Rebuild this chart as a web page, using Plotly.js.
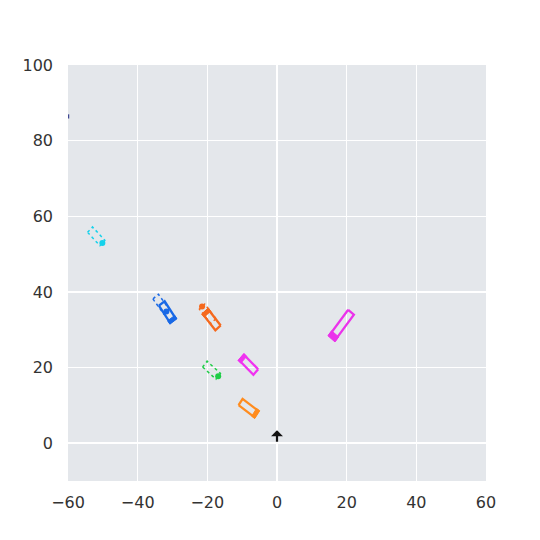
<!DOCTYPE html>
<html><head><meta charset="utf-8">
<script src="https://cdn.plot.ly/plotly-3.0.1.min.js"></script>
<style>html,body{margin:0;padding:0;background:#fff}</style>
</head><body><div id="chart" style="width:540px;height:540px"></div>
<script>
// ---- data (world coordinates, metres / degrees) ----
const vehX = [-31.5, -18.7, -8.1, -8.2, 18.6];
const vehY = [34.7, 32.6, 20.7, 9.3, 31.3];
const vehHeading = [-55, 130, 137, -35, -128.6];
const vehLength = [5.5, 5.5, 5.5, 5.5, 8.5];
const vehWidth = [2, 2, 2, 2, 2.1];

const ghostX = [-51.9, -18.8, -33.3, -19.9];
const ghostY = [54.7, 19.3, 36.8, 34.2];
const ghostHeading = [-45, -40, -52, 130];
const ghostLength = [5, 5, 5, 5];
const ghostWidth = [2, 2, 2, 2];

const egoX = [0], egoY = [0], egoArrowLen = [3.4];
const markX = [-59.8], markY = [86.4];

const xTicks = [-60, -40, -20, 0, 20, 40, 60];
const yTicks = [0, 20, 40, 60, 80, 100];

// ---- styles ----
const vehColors = ['rgb(25,105,230)', 'rgb(245,105,30)', 'rgb(240,50,240)', 'rgb(255,140,30)', 'rgb(235,50,235)'];
const ghostColors = ['rgb(20,210,235)', 'rgb(30,205,70)', 'rgb(25,105,230)', 'rgb(245,105,30)'];

function box(cx, cy, hdeg, L, W, a0, a1, w) {
  const h = hdeg * Math.PI / 180, c = Math.cos(h), s = Math.sin(h);
  const pts = [[a0, -w], [a1, -w], [a1, w], [a0, w], [a0, -w]];
  return {
    x: pts.map(p => cx + p[0] * L * c - p[1] * W * s),
    y: pts.map(p => cy + p[0] * L * s + p[1] * W * c)
  };
}
function pt(cx, cy, hdeg, d) {
  const h = hdeg * Math.PI / 180;
  return [cx + d * Math.cos(h), cy + d * Math.sin(h)];
}

const traces = [];
// ghost vehicles: dotted outline + dot at front
ghostX.forEach((gx, i) => {
  const b = box(gx, ghostY[i], ghostHeading[i], ghostLength[i], ghostWidth[i], -0.5, 0.5, 0.5);
  traces.push({type: 'scatter', mode: 'lines', x: b.x, y: b.y, hoverinfo: 'skip',
    line: {color: ghostColors[i], width: 1.5, dash: 'dot'}});
  const f = pt(gx, ghostY[i], ghostHeading[i], ghostLength[i] / 2);
  traces.push({type: 'scatter', mode: 'markers', x: [f[0]], y: [f[1]], hoverinfo: 'skip',
    marker: {color: ghostColors[i], size: 6, symbol: 'circle'}});
});
// solid vehicles: outline + filled front
vehX.forEach((vx, i) => {
  const b = box(vx, vehY[i], vehHeading[i], vehLength[i], vehWidth[i], -0.5, 0.5, 0.5);
  traces.push({type: 'scatter', mode: 'lines', x: b.x, y: b.y, hoverinfo: 'skip',
    line: {color: vehColors[i], width: 2.3}});
  const fr = box(vx, vehY[i], vehHeading[i], vehLength[i], vehWidth[i], 0.36, 0.56, 0.62);
  traces.push({type: 'scatter', mode: 'lines', x: fr.x, y: fr.y, fill: 'toself', hoverinfo: 'skip',
    fillcolor: vehColors[i], line: {color: vehColors[i], width: 1}});
});
// tiny mark at left edge
traces.push({type: 'scatter', mode: 'markers', x: markX, y: markY, hoverinfo: 'skip',
  marker: {symbol: 'line-ns', size: 3, line: {color: '#1a237e', width: 1}}});

const layout = {
  width: 540, height: 540,
  margin: {l: 68, r: 54, t: 65, b: 59},
  paper_bgcolor: '#ffffff', plot_bgcolor: '#e4e7eb',
  showlegend: false,
  font: {family: 'DejaVu Sans', size: 16, color: '#333333'},
  xaxis: {range: [-60, 60], tickvals: xTicks, showgrid: true, gridcolor: '#ffffff', gridwidth: 1.5,
    zeroline: false, showline: false, ticks: '', ticklabelstandoff: 10, fixedrange: true},
  yaxis: {range: [-10, 100], tickvals: yTicks, showgrid: true, gridcolor: '#ffffff', gridwidth: 1.5,
    zeroline: false, showline: false, ticks: '', ticklabelstandoff: 14, fixedrange: true},
  annotations: [{x: egoX[0], y: egoY[0] + egoArrowLen[0], ax: egoX[0], ay: egoY[0],
    xref: 'x', yref: 'y', axref: 'x', ayref: 'y', text: '', showarrow: true,
    arrowhead: 1, arrowsize: 0.9, arrowwidth: 2.2, arrowcolor: '#111111'}]
};
Plotly.newPlot('chart', traces, layout, {staticPlot: true});
</script></body></html>
